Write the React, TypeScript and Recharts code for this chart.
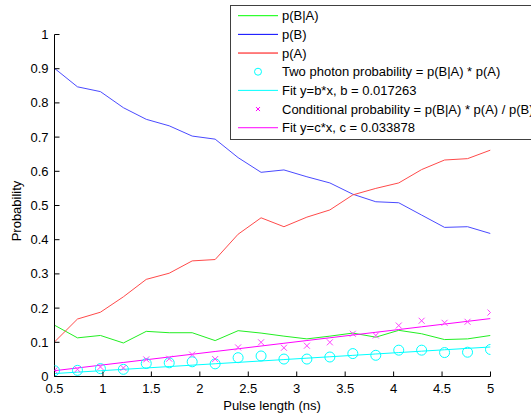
import React from 'react'
import { ComposedChart, Line, XAxis, YAxis } from 'recharts'

// Pulse lengths (ns) at which the probabilities were measured
const pulseLength = [0.5, 0.737, 0.974, 1.211, 1.447, 1.684, 1.921, 2.158, 2.395, 2.632, 2.868, 3.105, 3.342, 3.579, 3.816, 4.053, 4.289, 4.526, 4.763, 5.0]

const pBgivenA = [0.150, 0.113, 0.120, 0.098, 0.132, 0.128, 0.128, 0.105, 0.134, 0.127, 0.118, 0.110, 0.118, 0.127, 0.115, 0.135, 0.125, 0.108, 0.110, 0.120]
const pB = [0.901, 0.847, 0.833, 0.786, 0.752, 0.733, 0.703, 0.694, 0.640, 0.597, 0.604, 0.584, 0.566, 0.533, 0.511, 0.508, 0.472, 0.436, 0.438, 0.418]
const pA = [0.101, 0.168, 0.188, 0.233, 0.284, 0.302, 0.338, 0.342, 0.416, 0.464, 0.438, 0.466, 0.487, 0.531, 0.550, 0.566, 0.605, 0.633, 0.637, 0.662]
const twoPhoton = [0.017, 0.018, 0.023, 0.021, 0.038, 0.040, 0.043, 0.037, 0.055, 0.060, 0.051, 0.051, 0.057, 0.067, 0.062, 0.077, 0.077, 0.070, 0.071, 0.079]
const conditional = [0.018, 0.021, 0.028, 0.025, 0.050, 0.052, 0.064, 0.051, 0.085, 0.100, 0.084, 0.090, 0.100, 0.125, 0.120, 0.149, 0.163, 0.157, 0.160, 0.187]

// Least-squares slopes of the two fits through the origin
const FIT_B = 0.017263
const FIT_C = 0.033878

const xTicks = [0.5, 1, 1.5, 2, 2.5, 3, 3.5, 4, 4.5, 5]
const yTicks = [0, 0.1, 0.2, 0.3, 0.4, 0.5, 0.6, 0.7, 0.8, 0.9, 1]

const legendItems = [
  { label: 'p(B|A)', color: '#00ff00', kind: 'line' },
  { label: 'p(B)', color: '#0000ff', kind: 'line' },
  { label: 'p(A)', color: '#ff0000', kind: 'line' },
  { label: 'Two photon probability = p(B|A) * p(A)', color: '#00ffff', kind: 'circle' },
  { label: `Fit y=b*x, b = ${FIT_B}`, color: '#00ffff', kind: 'line' },
  { label: 'Conditional probability = p(B|A) * p(A) / p(B)', color: '#ff00ff', kind: 'cross' },
  { label: `Fit y=c*x, c = ${FIT_C}`, color: '#ff00ff', kind: 'line' },
]

const data = pulseLength.map((x, i) => ({
  x,
  pBA: pBgivenA[i],
  pB: pB[i],
  pA: pA[i],
  twoPhoton: twoPhoton[i],
  fitB: FIT_B * x,
  conditional: conditional[i],
  fitC: FIT_C * x,
}))

const FONT = '"Liberation Sans", Arial, sans-serif'

const fmt = (v: number) => String(Math.round(v * 10) / 10)

// MATLAB-style ticks: marks point into the plot, labels sit outside
const YTick = (props: any) => {
  const { x, y, payload } = props
  return (
    <g>
      <line x1={x} y1={y} x2={x + 5} y2={y} stroke="#000" />
      <text x={x - 6} y={y + 4.5} textAnchor="end" fontFamily={FONT} fontSize={13} fill="#000">
        {fmt(payload.value)}
      </text>
    </g>
  )
}

const XTick = (props: any) => {
  const { x, y, payload } = props
  return (
    <g>
      <line x1={x} y1={y} x2={x} y2={y - 5} stroke="#000" />
      <text x={x} y={y + 16.5} textAnchor="middle" fontFamily={FONT} fontSize={13} fill="#000">
        {fmt(payload.value)}
      </text>
    </g>
  )
}

const circleDot = (props: any) => {
  const { cx, cy, index } = props
  return <circle key={`c-${index}`} cx={cx} cy={cy} r={5} fill="none" stroke="#00ffff" strokeWidth={1} />
}

const crossDot = (props: any) => {
  const { cx, cy, index } = props
  return (
    <g key={`x-${index}`}>
      <line x1={cx - 3} y1={cy - 3} x2={cx + 3} y2={cy + 3} stroke="#ff40ff" />
      <line x1={cx - 3} y1={cy + 3} x2={cx + 3} y2={cy - 3} stroke="#ff40ff" />
    </g>
  )
}

const Legend = () => {
  const top = 15.7
  const step = 18.67
  return (
    <g>
      <rect x={230.5} y={5.5} width={330} height={134} fill="#fff" stroke="#404040" />
      {legendItems.map((item, i) => {
        const cy = top + i * step
        return (
          <g key={item.label}>
            {item.kind === 'line' && <line x1={238} y1={cy} x2={278} y2={cy} stroke={item.color} />}
            {item.kind === 'circle' && <circle cx={258} cy={cy} r={3.5} fill="none" stroke={item.color} />}
            {item.kind === 'cross' && (
              <g>
                <line x1={256} y1={cy - 2} x2={260} y2={cy + 2} stroke={item.color} />
                <line x1={256} y1={cy + 2} x2={260} y2={cy - 2} stroke={item.color} />
              </g>
            )}
            <text x={282} y={cy + 4.5} fontFamily={FONT} fontSize={13} fill="#000">
              {item.label}
            </text>
          </g>
        )
      })}
    </g>
  )
}

export default function App() {
  return (
    <div style={{ position: 'absolute', left: 0, top: 0, width: 531, height: 418, overflow: 'hidden', background: '#fff' }}>
      <ComposedChart
        width={531}
        height={418}
        data={data}
        margin={{ top: 34.5, right: 40.5, bottom: 0, left: 0 }}
      >
        <XAxis
          dataKey="x"
          type="number"
          domain={[0.5, 5]}
          ticks={xTicks}
          interval={0}
          allowDataOverflow
          height={41.5}
          tickSize={0}
          tickMargin={0}
          tickLine={false}
          axisLine={{ stroke: '#000' }}
          tick={XTick}
        />
        <YAxis
          type="number"
          domain={[0, 1]}
          ticks={yTicks}
          interval={0}
          allowDataOverflow
          width={54.5}
          tickSize={0}
          tickMargin={0}
          tickLine={false}
          axisLine={{ stroke: '#000' }}
          tick={YTick}
        />
        <Line dataKey="pBA" stroke="#22ee22" strokeWidth={1} dot={false} activeDot={false} isAnimationActive={false} />
        <Line dataKey="pB" stroke="#4a4aff" strokeWidth={1} dot={false} activeDot={false} isAnimationActive={false} />
        <Line dataKey="pA" stroke="#ff4a4a" strokeWidth={1} dot={false} activeDot={false} isAnimationActive={false} />
        <Line dataKey="twoPhoton" stroke="none" dot={circleDot} activeDot={false} isAnimationActive={false} />
        <Line dataKey="fitB" stroke="#00ffff" strokeWidth={1} dot={false} activeDot={false} isAnimationActive={false} />
        <Line dataKey="conditional" stroke="none" dot={crossDot} activeDot={false} isAnimationActive={false} />
        <Line dataKey="fitC" stroke="#ff00ff" strokeWidth={1} dot={false} activeDot={false} isAnimationActive={false} />
      </ComposedChart>
      <svg width={531} height={418} style={{ position: 'absolute', left: 0, top: 0, pointerEvents: 'none' }}>
        <text
          x={20.5}
          y={211}
          transform="rotate(-90 20.5 211)"
          textAnchor="middle"
          fontFamily={FONT}
          fontSize={13}
          fill="#000"
        >
          Probability
        </text>
        <text x={272} y={410} textAnchor="middle" fontFamily={FONT} fontSize={13} fill="#000">
          Pulse length (ns)
        </text>
        <Legend />
      </svg>
    </div>
  )
}
